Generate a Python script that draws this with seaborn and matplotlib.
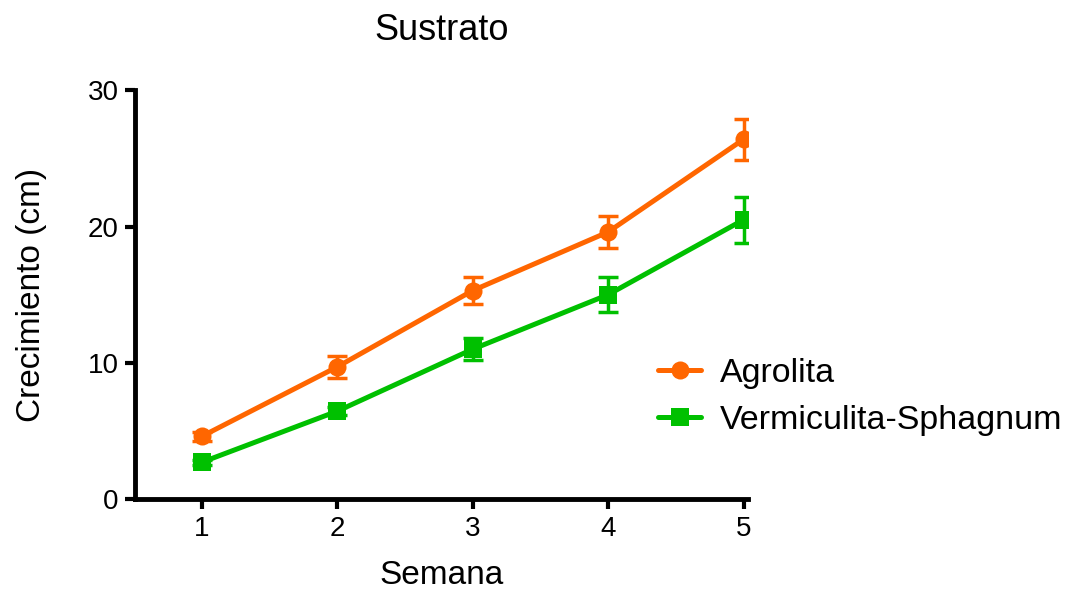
import matplotlib
matplotlib.use("Agg")
import matplotlib.pyplot as plt
import pandas as pd
import seaborn as sns

# Data
semana = [1, 2, 3, 4, 5]
agrolita = [4.6, 9.7, 15.3, 19.6, 26.4]
agrolita_err = [0.3, 0.8, 1.0, 1.2, 1.5]
vermiculita = [2.7, 6.45, 11.0, 15.0, 20.5]
vermiculita_err = [0.2, 0.3, 0.8, 1.3, 1.7]
series = ['Agrolita', 'Vermiculita-Sphagnum']
colors = {'Agrolita': '#FF6600', 'Vermiculita-Sphagnum': '#00C000'}
markers = {'Agrolita': 'o', 'Vermiculita-Sphagnum': 's'}

df = pd.DataFrame({
    'Semana': semana * 2,
    'Crecimiento': agrolita + vermiculita,
    'Err': agrolita_err + vermiculita_err,
    'Sustrato': [series[0]] * 5 + [series[1]] * 5,
})

sns.set_style('ticks')
plt.rcParams['font.family'] = ['Liberation Sans', 'DejaVu Sans']
plt.rcParams['text.color'] = 'black'
plt.rcParams['axes.labelcolor'] = 'black'

fig = plt.figure(figsize=(10.65, 5.9), dpi=100)
ax = fig.add_axes([0.127, 0.154, 0.575, 0.693])

for name in series:
    sub = df[df['Sustrato'] == name]
    ax.errorbar(sub['Semana'], sub['Crecimiento'], yerr=sub['Err'], fmt='none',
                ecolor=colors[name], elinewidth=2.5, capsize=7, capthick=2.5, zorder=2)

sns.lineplot(data=df, x='Semana', y='Crecimiento', hue='Sustrato', style='Sustrato',
             palette=colors, markers=markers, dashes=False, linewidth=3.6,
             markersize=13, markeredgewidth=0, ax=ax, zorder=3)

ax.set_xlim(0.51, 5.03)
ax.set_ylim(0, 30)
ax.set_xticks(semana)
ax.set_yticks([0, 10, 20, 30])
sns.despine(ax=ax)
for s in ['left', 'bottom']:
    ax.spines[s].set_linewidth(3.5)
    ax.spines[s].set_color('black')
ax.tick_params(width=3, length=7, labelsize=20, colors='black', pad=5)

ax.set_title('Sustrato', fontsize=26, pad=36)
ax.set_xlabel('Semana', fontsize=24, labelpad=13)
ax.set_ylabel('Crecimiento (cm)', fontsize=24, labelpad=29)

handles, labels = ax.get_legend_handles_labels()
ax.legend(handles, labels, loc='center left', bbox_to_anchor=(0.832, 0.25),
          frameon=False, fontsize=24.5, handlelength=1.25, handletextpad=0.55,
          labelspacing=0.45, borderaxespad=0)

fig.savefig('out.png', dpi=100)
